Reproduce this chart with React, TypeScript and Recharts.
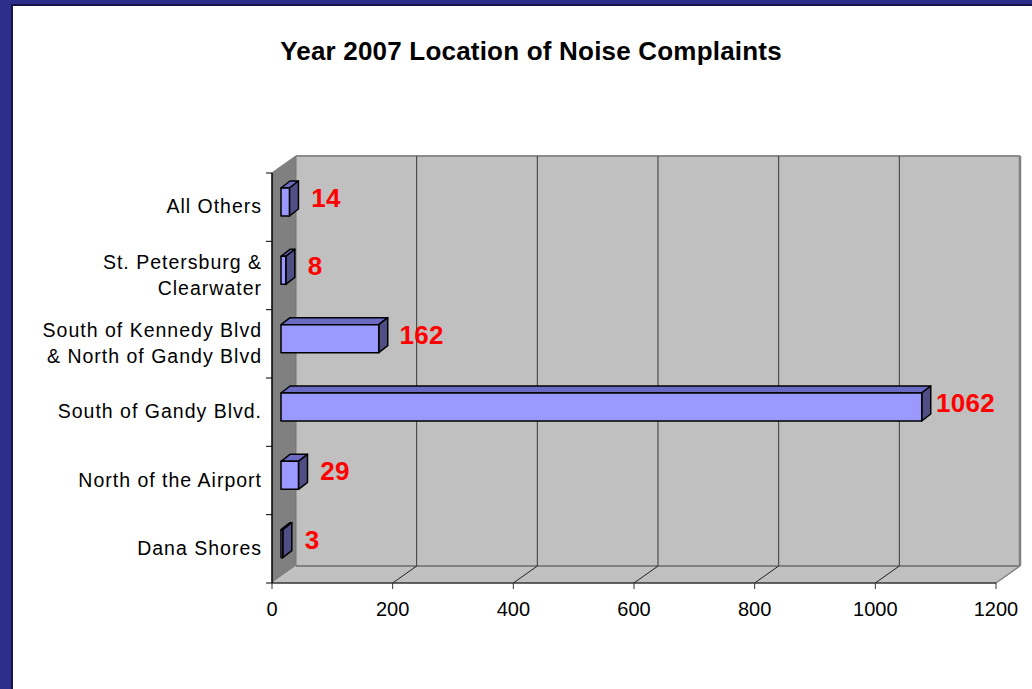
import { BarChart, Bar, XAxis, YAxis, ReferenceArea, ReferenceLine, LabelList } from 'recharts';

const categories = [
  'All Others',
  'St. Petersburg &\nClearwater',
  'South of Kennedy Blvd\n& North of Gandy Blvd',
  'South of Gandy Blvd.',
  'North of the Airport',
  'Dana Shores',
];
const complaints = [14, 8, 162, 1062, 29, 3];
const xTicks = [0, 200, 400, 600, 800, 1000, 1200];
const gridTicks = [200, 400, 600, 800, 1000];

const data = categories.map((name, i) => ({ name, value: complaints[i] }));

const FONT = '"Liberation Sans", Arial, sans-serif';
// 3D depth of the walls and of the bars
const DX = 24;
const DY = 17;
const BX = 9;
const BY = 5;
const BDX = 9;
const BDY = 7;
const AXIS_X = 272;

const Walls = (props: any) => {
  const { x, y, width, height } = props;
  const l = x, t = y, r = x + width, b = y + height;
  return (
    <g>
      <rect x={l + DX} y={t - DY} width={width} height={height} fill="#c0c0c0" />
      <polygon points={`${l},${t} ${l + DX},${t - DY} ${l + DX},${b - DY} ${l},${b}`} fill="#808080" />
      <polygon points={`${l},${b} ${l + DX},${b - DY} ${r + DX},${b - DY} ${r},${b}`} fill="#c0c0c0" />
      <line x1={l} y1={t} x2={l + DX} y2={t - DY} stroke="#808080" strokeWidth={1.5} />
      <line x1={l + DX} y1={t - DY} x2={r + DX} y2={t - DY} stroke="#8c8c8c" strokeWidth={2} />
      <line x1={r + DX} y1={t - DY} x2={r + DX} y2={b - DY} stroke="#808080" strokeWidth={2.5} />
      <line x1={l + DX} y1={b - DY} x2={r + DX} y2={b - DY} stroke="#808080" strokeWidth={2} />
      <line x1={r} y1={b} x2={r + DX} y2={b - DY} stroke="#808080" strokeWidth={1.5} />
      <line x1={l + DX} y1={t - DY} x2={l + DX} y2={b - DY} stroke="#777" strokeWidth={1} />
    </g>
  );
};

const GridLine = (props: any) => {
  const { x1, y1, y2 } = props;
  const top = Math.min(y1, y2);
  const bottom = Math.max(y1, y2);
  return (
    <g>
      <line x1={x1 + DX} y1={top - DY} x2={x1 + DX} y2={bottom - DY} stroke="#3a3a3a" strokeWidth={1} />
      <line x1={x1} y1={bottom} x2={x1 + DX} y2={bottom - DY} stroke="#202020" strokeWidth={1} />
    </g>
  );
};

const Bar3D = (props: any) => {
  const { x, y, width, height } = props;
  const fx = x + BX;
  const fy = y - BY;
  const w = Math.max(width, 0);
  return (
    <g stroke="#000" strokeWidth={1.5} strokeLinejoin="round">
      <polygon
        points={`${fx},${fy} ${fx + BDX},${fy - BDY} ${fx + w + BDX},${fy - BDY} ${fx + w},${fy}`}
        fill="#6b6bc4"
      />
      <polygon
        points={`${fx + w},${fy} ${fx + w + BDX},${fy - BDY} ${fx + w + BDX},${fy + height - BDY} ${fx + w},${fy + height}`}
        fill="#4f4f85"
      />
      <rect x={fx} y={fy} width={w} height={height} fill="#9999ff" />
    </g>
  );
};

const renderLabel = (props: any) => {
  const { x, y, width, height, value } = props;
  // the gap to the bar end shrinks a little on the long bars
  const gap = 22 - width * 0.012;
  return (
    <text
      x={x + BX + width + gap}
      y={y + height / 2 - BY - 4.5}
      dy="0.36em"
      fill="#ff0000"
      fontSize={26}
      fontWeight="bold"
      letterSpacing={0.3}
      fontFamily={FONT}
    >
      {value}
    </text>
  );
};

const CategoryTick = (props: any) => {
  const { y, payload, index } = props;
  const half = payload.offset ?? 34.2;
  const lines = String(payload.value).split('\n');
  const lh = 26;
  const start = y - 1 - ((lines.length - 1) * lh) / 2;
  return (
    <g>
      <line x1={AXIS_X - 6} y1={y - half} x2={AXIS_X} y2={y - half} stroke="#000" />
      {index === categories.length - 1 && (
        <line x1={AXIS_X - 6} y1={y + half} x2={AXIS_X} y2={y + half} stroke="#000" />
      )}
      <text textAnchor="end" fontSize={19.5} letterSpacing={1} fontFamily={FONT} fill="#000">
        {lines.map((ln, i) => (
          <tspan key={i} x={AXIS_X - 10} y={start + i * lh} dy="0.36em">
            {ln}
          </tspan>
        ))}
      </text>
    </g>
  );
};

export default function App() {
  return (
    <div
      style={{
        position: 'absolute',
        left: 0,
        top: 0,
        width: 1032,
        height: 689,
        background: '#2d2d8c',
        overflow: 'hidden',
        fontFamily: FONT,
      }}
    >
      <div
        style={{
          position: 'absolute',
          left: 11,
          top: 4,
          width: 1032,
          height: 700,
          background: '#fff',
          borderLeft: '2px solid #15154a',
          borderTop: '2px solid #15154a',
        }}
      />
      <div
        style={{
          position: 'absolute',
          left: 0,
          top: 35,
          width: 1062,
          textAlign: 'center',
          fontSize: 26,
          fontWeight: 'bold',
          letterSpacing: 0.2,
          color: '#000',
          lineHeight: '32px',
        }}
      >
        Year 2007 Location of Noise Complaints
      </div>
      <div style={{ position: 'absolute', left: 0, top: 0 }}>
        <BarChart
          width={1032}
          height={689}
          data={data}
          layout="vertical"
          margin={{ top: 173, right: 36, bottom: 76, left: 72 }}
          barSize={28}
        >
          <ReferenceArea x1={0} x2={1200} shape={<Walls />} zIndex={-100} ifOverflow="visible" />
          {gridTicks.map((t) => (
            <ReferenceLine key={t} x={t} shape={<GridLine />} zIndex={-90} />
          ))}
          <XAxis
            type="number"
            domain={[0, 1200]}
            ticks={xTicks}
            interval={0}
            height={30}
            axisLine={{ stroke: '#333', strokeWidth: 1.5 }}
            tickLine={{ stroke: '#333' }}
            tickSize={6}
            tickMargin={13}
            tick={{ fill: '#000', fontSize: 20, fontFamily: FONT }}
          />
          <YAxis
            type="category"
            dataKey="name"
            width={200}
            axisLine={{ stroke: '#000', strokeWidth: 1.5 }}
            tickLine={false}
            interval={0}
            tick={<CategoryTick />}
          />
          <Bar dataKey="value" shape={<Bar3D />} isAnimationActive={false}>
            <LabelList dataKey="value" content={renderLabel} />
          </Bar>
        </BarChart>
      </div>
    </div>
  );
}
